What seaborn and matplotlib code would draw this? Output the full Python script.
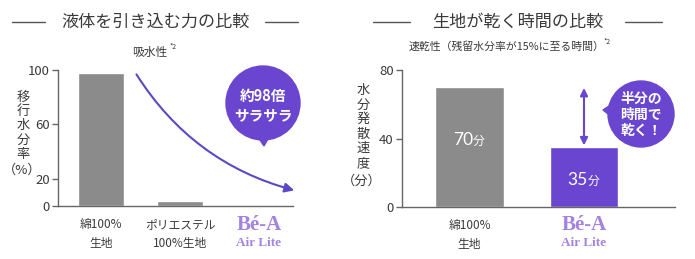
import matplotlib
matplotlib.use("Agg")
import matplotlib.pyplot as plt
import seaborn as sns
import pandas as pd
from matplotlib.patches import Circle, Polygon, FancyArrowPatch

# ---------------- data ----------------
abs_categories = ["綿100%\n生地", "ポリエステル\n100%生地", "Bé-A Air Lite"]
abs_values = [98, 4, 1]
abs_yticks = [0, 20, 60, 100]

dry_categories = ["綿100%\n生地", "Bé-A Air Lite"]
dry_values = [70, 35]
dry_yticks = [0, 40, 80]

sns.set_theme(style="white")
plt.rcParams['font.family'] = ['Noto Sans CJK JP', 'DejaVu Sans']

GRAY = '#8b8b8b'
PURPLE = '#6a45cf'
LAV = '#a482e0'
TXT = '#3a3a3a'
AX = '#666666'

W, H = 695, 259
fig = plt.figure(figsize=(W / 100, H / 100), dpi=100)


def rect(x0, y0, x1, y1):
    return [x0 / W, 1 - y1 / H, (x1 - x0) / W, (y1 - y0) / H]


ax1 = fig.add_axes(rect(58, 70, 293, 206))
ax2 = fig.add_axes(rect(402, 70, 675, 207))

df1 = pd.DataFrame({"cat": abs_categories, "val": abs_values})
sns.barplot(data=df1, x="cat", y="val", hue="cat", palette=[GRAY, GRAY, PURPLE],
            width=0.58, saturation=1, legend=False, ax=ax1)
df2 = pd.DataFrame({"cat": dry_categories, "val": dry_values})
sns.barplot(data=df2, x="cat", y="val", hue="cat", palette=[GRAY, PURPLE],
            width=0.6, saturation=1, legend=False, ax=ax2)

for ax, yt, ylim, xlim, cats in [
        (ax1, abs_yticks, (0, 100), (-0.545, 2.42), abs_categories),
        (ax2, dry_yticks, (0, 80), (-0.59, 1.795), dry_categories)]:
    ax.set_ylim(*ylim)
    ax.set_xlim(*xlim)
    ax.set_yticks(yt)
    ax.set_xticks(range(len(cats)))
    ax.set_xticklabels([c if not c.startswith("Bé") else "" for c in cats])
    for lbl in ax.get_xticklabels():
        lbl.set_linespacing(1.55)
    ax.set_xlabel("")
    ax.set_ylabel("")
    ax.set_facecolor('none')
    for s in ['top', 'right']:
        ax.spines[s].set_visible(False)
    for s in ['left', 'bottom']:
        ax.spines[s].set_color(AX)
        ax.spines[s].set_linewidth(1.0)
    ax.tick_params(axis='y', left=True, length=4, width=1, color=AX, pad=2,
                   labelsize=9.5, labelcolor=TXT)
    ax.tick_params(axis='x', bottom=False, length=0, pad=9,
                   labelsize=8.5, labelcolor=TXT)

# curve arrow on left chart
curve = FancyArrowPatch(posA=(0.426, 98.5), posB=(2.47, 11),
                        connectionstyle='arc3,rad=0.2', arrowstyle='-|>',
                        mutation_scale=14, lw=1.5, color='#5a49c4',
                        clip_on=False, zorder=5)
ax1.add_patch(curve)

# double arrow on right chart
darrow = FancyArrowPatch(posA=(1, 36), posB=(1, 69.5), arrowstyle='<|-|>',
                         mutation_scale=11, lw=1.5, color=PURPLE,
                         clip_on=False, zorder=5, shrinkA=0, shrinkB=0)
ax2.add_patch(darrow)

# ---------------- overlay in pixel coordinates ----------------
ov = fig.add_axes([0, 0, 1, 1], zorder=10)
ov.set_xlim(0, W)
ov.set_ylim(H, 0)
ov.axis('off')
ov.patch.set_alpha(0)

# titles with side rules
for cx, title, l1, l2 in [(155, "液体を引き込む力の比較", (12, 45), (265, 298)),
                          (518, "生地が乾く時間の比較", (373, 410), (625, 662))]:
    ov.text(cx, 22, title, ha='center', va='center', fontsize=12.3, color=TXT)
    ov.plot(l1, [22, 22], color='#555555', lw=1)
    ov.plot(l2, [22, 22], color='#555555', lw=1)

# subtitles
ov.text(150, 52, "吸水性", ha='center', va='center', fontsize=8.5, color=TXT)
ov.text(170, 47, "*2", ha='left', va='center', fontsize=5, color=TXT)
ov.text(507, 47, "速乾性（残留水分率が15%に至る時間）", ha='center', va='center',
        fontsize=7.8, color=TXT)
ov.text(604, 42, "*2", ha='left', va='center', fontsize=5, color=TXT)

# vertical y labels
ov.text(23, 126, "移\n行\n水\n分\n率", ha='center', va='center', fontsize=9.5,
        color=TXT, linespacing=1.12)
ov.text(22, 170, "（%）", ha='center', va='center', fontsize=9.5, color=TXT)
ov.text(363, 127, "水\n分\n発\n散\n速\n度", ha='center', va='center', fontsize=9.5,
        color=TXT, linespacing=1.15)
ov.text(362, 181, "（分）", ha='center', va='center', fontsize=9.5, color=TXT)

# logos
for lx in (259, 584):
    ov.text(lx, 225, "Bé-A", ha='center', va='center', fontsize=15,
            family='Liberation Serif', weight='bold', color=LAV)
    ov.text(lx, 243, "Air Lite", ha='center', va='center', fontsize=9.5,
            family='Liberation Serif', weight='bold', color=LAV)

# bar value labels
for cx, by, num in [(469, 145, "70"), (584, 185, "35")]:
    ov.text(cx + 4, by, num, ha='right', va='baseline', fontsize=12.5,
            color='white', family='Lato')
    ov.text(cx + 4, by, "分", ha='left', va='baseline', fontsize=8.5,
            color='white')

# badges
ov.add_patch(Circle((263, 103), 37, color=PURPLE, zorder=3))
ov.add_patch(Polygon([(258, 137), (269, 137), (264, 146)], closed=True,
                     color=PURPLE, zorder=3))
ov.text(263, 96, "約98倍", ha='center', va='center', fontsize=10.5,
        color='white', weight='bold', zorder=4)
ov.text(263, 115, "サラサラ", ha='center', va='center', fontsize=10.5,
        color='white', weight='bold', zorder=4)

ov.add_patch(Circle((641, 114), 33, color=PURPLE, zorder=3))
ov.add_patch(Polygon([(612, 104), (612, 117), (603, 110)], closed=True,
                     color=PURPLE, zorder=3))
ov.text(641, 115, "半分の\n時間で\n乾く！", ha='center', va='center', fontsize=10,
        color='white', weight='bold', linespacing=1.2, zorder=4)

fig.savefig("out.png", dpi=100)
